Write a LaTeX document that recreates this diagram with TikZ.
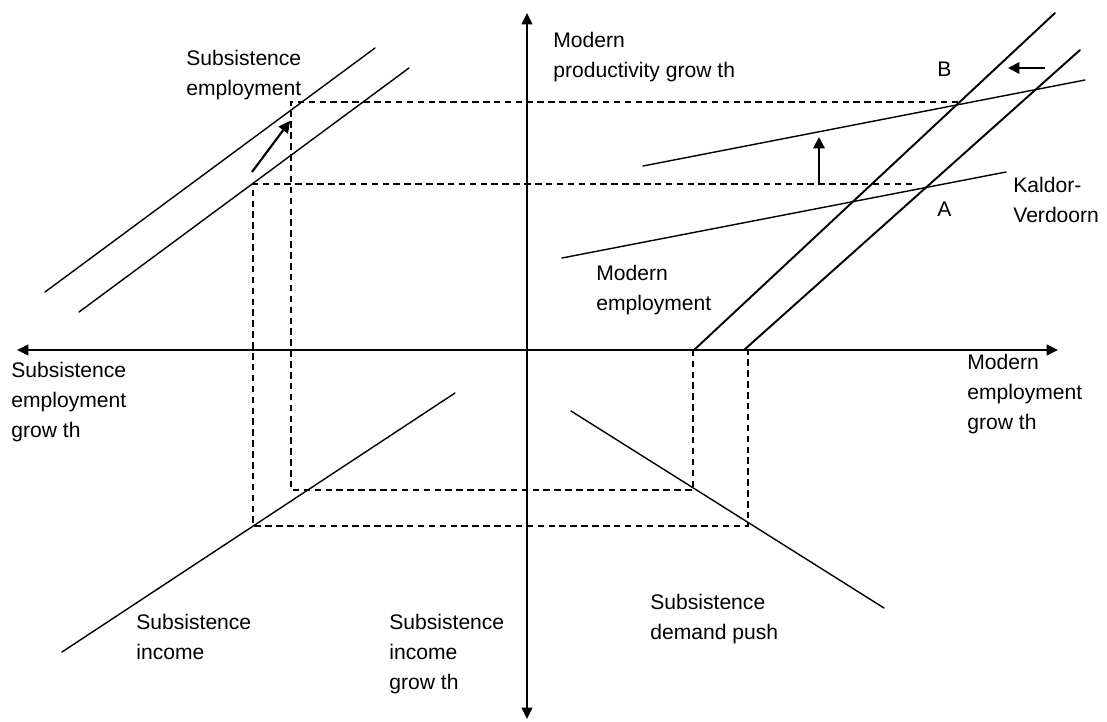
\documentclass[tikz,border=0pt]{standalone}
\usepackage{fontspec}
\setmainfont{Liberation Sans}
\usepackage{tikz}
\usetikzlibrary{arrows.meta}
\tikzstyle{AxisLine}=[line width=1.3pt,{Triangle[length=6.5pt,width=6pt]}-{Triangle[length=6.5pt,width=6pt]}]
\tikzstyle{CurveLine}=[line width=0.8pt,line cap=round]
\tikzstyle{SteepLine}=[line width=1.1pt,line cap=round]
\tikzstyle{ShiftArrow}=[line width=1.2pt,-{Triangle[length=6.5pt,width=6.5pt]}]
\tikzstyle{GuideLine}=[line width=1pt,dash pattern=on 3.7pt off 2.5pt]
\tikzstyle{LabelText}=[anchor=north west,inner sep=0pt,align=left,
font=\fontsize{12}{17}\selectfont]

\begin{document}
\begin{tikzpicture}[x=0.2mm,y=-0.2mm]
        \useasboundingbox(0,0)rectangle(1107,721);
        % axes
        \coordinate(xl)at(17,350);
        \coordinate(xr)at(1058,350);
        \coordinate(yt)at(527,13);
        \coordinate(yb)at(527,719);
        \draw[AxisLine](xl)--(xr);
        \draw[AxisLine](yb)--(yt);
        % guide rectangles
        \coordinate(A)at(912,184);
        \coordinate(B)at(958,102);
        \coordinate(pA)at(253,184);
        \coordinate(pB)at(291,102);
        \coordinate(qA)at(253,526);
        \coordinate(qB)at(291,490);
        \coordinate(rA)at(748,526);
        \coordinate(rB)at(693,490);
        \coordinate(sA)at(748,350);
        \coordinate(sB)at(693,350);
        \draw[GuideLine](A)--(pA)--(qA)--(rA)--(sA);
        \draw[GuideLine](B)--(pB)--(qB)--(rB)--(sB);
        % subsistence employment
        \coordinate(se1a)at(45,292);
        \coordinate(se1b)at(375,48);
        \coordinate(se2a)at(79,312);
        \coordinate(se2b)at(409,68);
        \draw[CurveLine](se1a)--(se1b);
        \draw[CurveLine](se2a)--(se2b);
        \coordinate(sea)at(252,172);
        \coordinate(seb)at(290,121);
        \draw[ShiftArrow](sea)--(seb);
        % subsistence income and demand push
        \coordinate(sia)at(62,652);
        \coordinate(sib)at(455,393);
        \draw[CurveLine](sia)--(sib);
        \coordinate(dpa)at(571,411);
        \coordinate(dpb)at(884,608);
        \draw[CurveLine](dpa)--(dpb);
        % modern employment
        \coordinate(me1a)at(694,350);
        \coordinate(me1b)at(1055,13);
        \coordinate(me2a)at(744,350);
        \coordinate(me2b)at(1080,50);
        \draw[SteepLine](me1a)--(me1b);
        \draw[SteepLine](me2a)--(me2b);
        \coordinate(mea)at(1045,68);
        \coordinate(meb)at(1008,68);
        \draw[ShiftArrow](mea)--(meb);
        % Kaldor-Verdoorn
        \coordinate(kv1a)at(562,258);
        \coordinate(kv1b)at(1006,172);
        \coordinate(kv2a)at(643,166);
        \coordinate(kv2b)at(1085,80);
        \draw[CurveLine](kv1a)--(kv1b);
        \draw[CurveLine](kv2a)--(kv2b);
        \coordinate(kva)at(819,184);
        \coordinate(kvb)at(819,137);
        \draw[ShiftArrow](kva)--(kvb);
        % labels
        \node[LabelText](lSubEmp)at(186,50){Subsistence\\employment};
        \node[LabelText](lModProd)at(553,32){Modern\\productivity grow th};
        \node[LabelText](lB)at(937,62){B};
        \node[LabelText](lA)at(937,202){A};
        \node[LabelText](lKV)at(1013,177){Kaldor-\\Verdoorn};
        \node[LabelText](lModEmp)at(596,265){Modern\\employment};
        \node[LabelText](lSubEmpG)at(11,362){Subsistence\\employment\\grow th};
        \node[LabelText](lModEmpG)at(967,354){Modern\\employment\\grow th};
        \node[LabelText](lSubInc)at(136,614){Subsistence\\income};
        \node[LabelText](lSubIncG)at(389,614){Subsistence\\income\\grow th};
        \node[LabelText](lSubDem)at(650,594){Subsistence\\demand push};
    \end{tikzpicture}
\end{document}
